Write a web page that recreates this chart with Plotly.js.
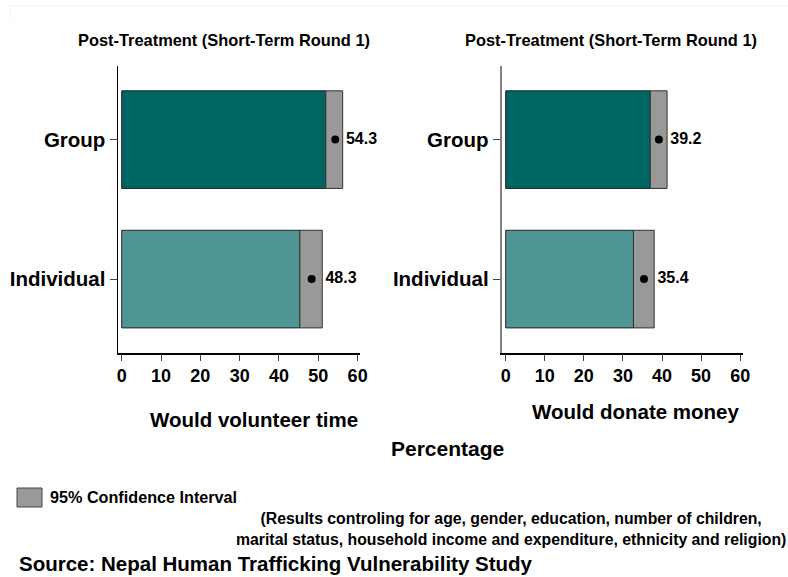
<!DOCTYPE html>
<html>
<head>
<meta charset="utf-8">
<script src="https://cdn.plot.ly/plotly-3.0.1.min.js"></script>
<style>html,body{margin:0;padding:0;background:#fff;}#chart{width:788px;height:577px;}</style>
</head>
<body>
<div id="chart"></div>
<script>
// ---- data ----
const categories = ['Individual', 'Group'];
const volunteerEst = [48.3, 54.3];
const volunteerLow = [45.3, 51.9];
const volunteerHigh = [51.0, 56.2];
const donateEst = [35.4, 39.2];
const donateLow = [32.7, 37.0];
const donateHigh = [38.0, 41.3];
const xTicks = [0, 10, 20, 30, 40, 50, 60];
const panelTitle = 'Post-Treatment (Short-Term Round 1)';
const xTitles = ['Would volunteer time', 'Would donate money'];

const barColors = ['#4f9594', '#006664'];
const ciColor = '#999999';
const FONT = 'Liberation Sans, Arial, sans-serif';

function panel(est, low, high, xa, ya) {
  const width = 0.7;
  return [
    {type: 'bar', orientation: 'h', y: categories, x: low, base: 0, width: width,
     xaxis: xa, yaxis: ya, marker: {color: barColors, line: {color: '#222', width: 1}},
     hoverinfo: 'skip', showlegend: false},
    {type: 'bar', orientation: 'h', y: categories, x: high.map((h, i) => h - low[i]), base: low, width: width,
     xaxis: xa, yaxis: ya, marker: {color: ciColor, line: {color: '#333', width: 1}},
     hoverinfo: 'skip', showlegend: false},
    {type: 'scatter', mode: 'markers', y: categories, x: est, xaxis: xa, yaxis: ya,
     marker: {color: '#000', size: 8}, hoverinfo: 'skip', showlegend: false, cliponaxis: false},
    {type: 'scatter', mode: 'text', y: categories, x: high, xaxis: xa, yaxis: ya,
     text: est.map(v => '\u2009' + v.toFixed(1)), textposition: 'middle right', cliponaxis: false,
     textfont: {family: FONT, size: 16, color: '#000', weight: 700},
     hoverinfo: 'skip', showlegend: false}
  ];
}

const data = [].concat(
  panel(volunteerEst, volunteerLow, volunteerHigh, 'x', 'y'),
  panel(donateEst, donateLow, donateHigh, 'x2', 'y2')
);

function xAxis(domain, anchor, range) {
  return {domain: domain, anchor: anchor, range: range, tickvals: xTicks, ticktext: xTicks.map(String),
    showgrid: false, zeroline: false, showline: true, linecolor: '#000', linewidth: 1.5,
    ticks: 'outside', ticklen: 6, tickcolor: '#444', tickwidth: 1,
    tickfont: {family: FONT, size: 18, color: '#000', weight: 700}, fixedrange: true};
}
function yAxis(domain, anchor, lineColor, lineWidth) {
  return {domain: domain, anchor: anchor, type: 'category', categoryorder: 'array', categoryarray: categories,
    range: [-0.53, 1.53], showgrid: false, zeroline: false, showline: true, linecolor: lineColor, linewidth: lineWidth,
    ticks: 'outside', ticklen: 7, tickcolor: '#444', tickwidth: 1,
    tickfont: {family: FONT, size: 20.5, color: '#000', weight: 700}, fixedrange: true};
}

const H = 577, W = 788;
const py = p => 1 - p / H;
const px = p => p / W;
const yDom = [py(353), py(65.7)];

function ann(text, x, y, size, xanchor, extra) {
  return Object.assign({text: text, x: x, y: y, xref: 'paper', yref: 'paper', showarrow: false,
    xanchor: xanchor || 'center', yanchor: 'middle',
    font: {family: FONT, size: size, color: '#000', weight: 700}}, extra || {});
}

const layout = {
  width: W, height: H, margin: {l: 0, r: 0, t: 0, b: 0},
  paper_bgcolor: '#fff', plot_bgcolor: '#fff', barmode: 'overlay', showlegend: false,
  xaxis: xAxis([px(118), px(360)], 'y', [-0.94, 60.6]),
  yaxis: yAxis(yDom, 'x', '#000', 1.5),
  xaxis2: xAxis([px(501.7), px(743.3)], 'y2', [-1.02, 60.8]),
  yaxis2: yAxis(yDom, 'x2', '#808080', 2),
  shapes: [
    {type: 'line', xref: 'paper', yref: 'paper', x0: px(10), x1: 1, y0: py(6), y1: py(6), line: {color: '#eef2f2', width: 1}},
    {type: 'line', xref: 'paper', yref: 'paper', x0: px(10), x1: px(10), y0: py(6), y1: py(20), line: {color: '#f2f4f4', width: 1}},
    {type: 'rect', xref: 'paper', yref: 'paper', x0: px(17), x1: px(42), y0: py(507), y1: py(488), fillcolor: ciColor, line: {color: '#444', width: 1}}
  ],
  annotations: [
    ann(panelTitle, px(224), py(40), 16.4),
    ann(panelTitle, px(611), py(40), 16.4),
    ann(xTitles[0], px(254), py(419), 20.5),
    ann(xTitles[1], px(636), py(411), 20.5),
    ann('Percentage', px(447), py(448), 21),
    ann('95% Confidence Interval', px(48), py(497), 16.2, 'left'),
    ann('(Results controling for age, gender, education, number of children,<br>marital status, household income and expenditure, ethnicity and religion)', px(511), py(529), 15.8, 'center', {align: 'center'}),
    ann('Source: Nepal Human Trafficking Vulnerability Study', px(17), py(563), 20.5, 'left')
  ]
};

Plotly.newPlot('chart', data, layout, {displayModeBar: false, staticPlot: true});
</script>
</body>
</html>
